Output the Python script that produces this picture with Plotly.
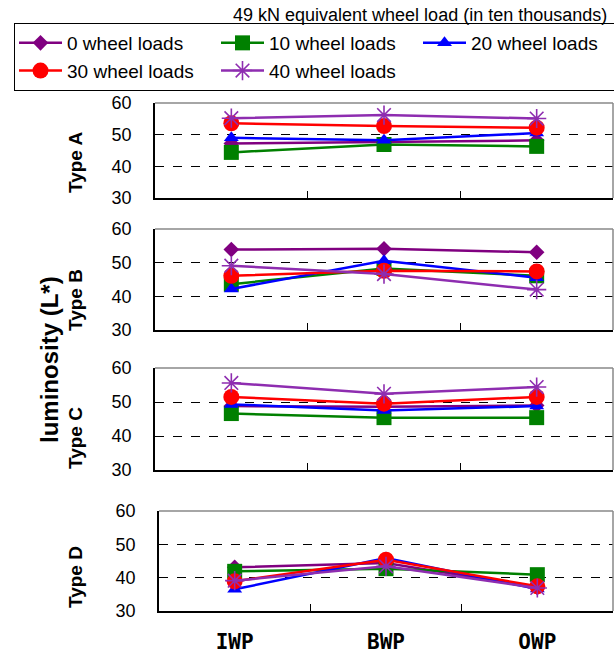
import plotly.graph_objects as go

W, H = 614, 657

categories = ["IWP", "BWP", "OWP"]
series_names = ["0 wheel loads", "10 wheel loads", "20 wheel loads", "30 wheel loads", "40 wheel loads"]
panel_names = ["Type A", "Type B", "Type C", "Type D"]

type_a = [
    [47.2, 47.6, 48.2],
    [44.4, 46.9, 46.3],
    [49.0, 48.2, 50.5],
    [53.6, 52.7, 52.2],
    [55.2, 56.2, 55.1],
]
type_b = [
    [53.9, 54.1, 53.1],
    [43.6, 48.3, 46.1],
    [42.2, 50.6, 45.5],
    [46.1, 47.6, 47.4],
    [49.1, 46.6, 42.0],
]
type_c = [
    [48.8, 48.6, 49.0],
    [46.6, 45.4, 45.4],
    [49.3, 47.5, 48.8],
    [51.5, 49.5, 51.5],
    [55.6, 52.4, 54.4],
]
type_d = [
    [43.1, 44.4, 37.0],
    [41.9, 42.7, 40.9],
    [36.5, 45.9, 36.6],
    [38.9, 45.4, 37.4],
    [39.1, 43.4, 36.9],
]
panels = [type_a, type_b, type_c, type_d]

y_ticks = [30, 40, 50, 60]
legend_title = "49 kN equivalent wheel load (in ten thousands)"
y_title = "luminosity (L*)"

colors = ["#800080", "#008000", "#0000FF", "#FF0000", "#8E2DB0"]
symbols = ["diamond", "square", "triangle-up", "circle", "asterisk-open"]
sizes = [12, 15, 13, 16, 16]

# panel pixel geometry (top, bottom, left, right)
geo = [(103, 198, 155, 613), (229, 330, 155, 613), (368, 470, 155, 613), (511, 611, 159, 613)]
type_label_y = [162, 300, 438, 577]

fig = go.Figure()

for p, data in enumerate(panels):
    ax = "" if p == 0 else str(p + 1)
    for s, vals in enumerate(data):
        fig.add_trace(go.Scatter(
            x=categories, y=vals, mode="lines+markers",
            name=series_names[s], legendgroup=series_names[s], showlegend=(p == 0),
            line=dict(color=colors[s], width=2.5),
            marker=dict(symbol=symbols[s], size=sizes[s], color=colors[s],
                        line=dict(color=colors[s], width=1.6 if s == 4 else 0)),
            xaxis="x" + ax, yaxis="y" + ax,
        ))

layout = dict(width=W, height=H, margin=dict(l=0, r=0, t=0, b=0, autoexpand=False),
              paper_bgcolor="white", plot_bgcolor="white",
              font=dict(family="Liberation Sans, Arial, sans-serif", color="black"))

shapes = []
annotations = []
for p in range(4):
    top, bot, left, right = geo[p]
    ax = "" if p == 0 else str(p + 1)
    xk = "xaxis" + ax
    yk = "yaxis" + ax
    layout[xk] = dict(domain=[left / W, right / W], anchor="y" + ax, type="category",
                      range=[-0.5, 2.5], tickson="boundaries", ticks="inside", ticklen=7,
                      tickcolor="black", showline=True, linecolor="black", linewidth=1.5,
                      showgrid=False, showticklabels=(p == 3), automargin=False,
                      tickfont=dict(family="DejaVu Sans Mono, monospace", size=21, weight="bold"),
                      ticklabelstandoff=11)
    layout[yk] = dict(domain=[1 - bot / H, 1 - top / H], anchor="x" + ax, range=[30, 60],
                      tickvals=y_ticks, showline=True, linecolor="black", linewidth=1.5,
                      showgrid=True, gridcolor="black", griddash="dash", gridwidth=1,
                      zeroline=False, ticks="", tickfont=dict(size=18), automargin=False,
                      ticklabelstandoff=18)
    xr = "x" + ax + " domain"
    yr = "y" + ax + " domain"
    shapes.append(dict(type="line", xref=xr, yref=yr, x0=0, x1=1, y0=1, y1=1,
                       line=dict(color="#888888", width=1.5)))
    shapes.append(dict(type="line", xref=xr, yref=yr, x0=1, x1=1, y0=0, y1=1,
                       line=dict(color="#888888", width=1.5)))
    annotations.append(dict(text=panel_names[p], xref="paper", yref="paper",
                            x=75 / W, y=1 - type_label_y[p] / H, showarrow=False,
                            textangle=-90, xanchor="center", yanchor="middle",
                            font=dict(size=19, weight="bold")))

annotations.append(dict(text=y_title, xref="paper", yref="paper", x=49 / W, y=1 - 359 / H,
                        showarrow=False, textangle=-90, xanchor="center", yanchor="middle",
                        font=dict(size=24, weight="bold")))
annotations.append(dict(text=legend_title, xref="paper", yref="paper", x=609 / W, y=1 - 15 / H,
                        showarrow=False, xanchor="right", yanchor="middle",
                        font=dict(size=18)))

layout["shapes"] = shapes
layout["annotations"] = annotations
layout["legend"] = dict(orientation="h", x=14 / W, y=1 - 23 / H, xanchor="left", yanchor="top",
                        bordercolor="black", borderwidth=1, bgcolor="white",
                        font=dict(size=19), entrywidth=144, entrywidthmode="pixels",
                        itemwidth=43, tracegroupgap=0, itemclick=False)
layout["showlegend"] = True

fig.update_layout(**layout)
fig.write_html("out.html", config={"displayModeBar": False},
               post_script="document.body.style.margin='0';document.body.style.overflow='hidden';")
